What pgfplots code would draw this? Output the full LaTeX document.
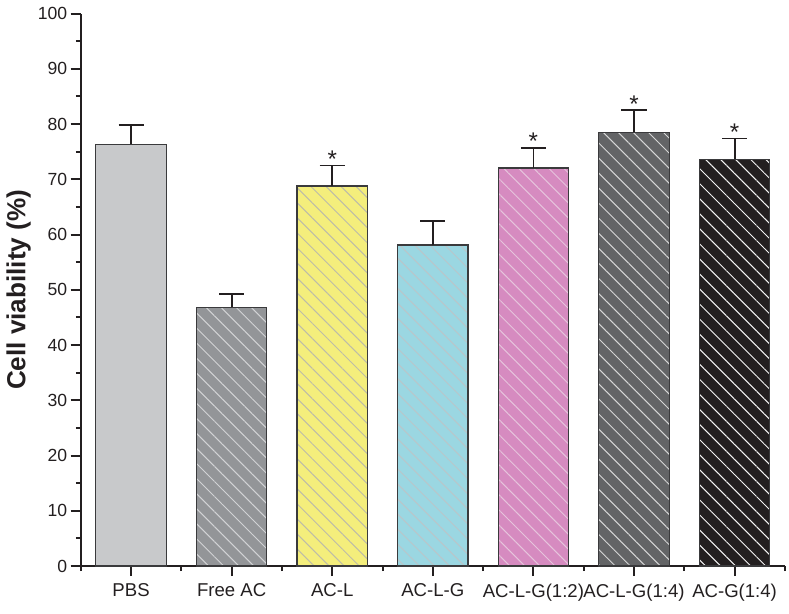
\documentclass[border=0pt]{standalone}
\usepackage{fontspec}
\setmainfont{Liberation Sans}
\usepackage{pgfplots}
\pgfplotsset{compat=1.18}
\usetikzlibrary{patterns.meta}
\definecolor{axisc}{HTML}{231F20}
\definecolor{edge}{HTML}{3A3A3C}
\definecolor{c1}{HTML}{C8C9CB}
\definecolor{c2}{HTML}{939598}
\definecolor{h2}{HTML}{D2D3D5}
\definecolor{c3}{HTML}{F4EE7C}
\definecolor{h3}{HTML}{BDBCA8}
\definecolor{c4}{HTML}{9BD7E2}
\definecolor{h4}{HTML}{B9C6CA}
\definecolor{c5}{HTML}{D68BC0}
\definecolor{h5}{HTML}{E6C4DC}
\definecolor{c6}{HTML}{636466}
\definecolor{h6}{HTML}{D6D6D6}
\definecolor{c7}{HTML}{231F20}
\definecolor{h7}{HTML}{F4F4F4}
\tikzset{hatch/.style={postaction={pattern={Lines[angle=-45,distance=10.6bp,line width=1bp]},pattern color=#1}}}
\begin{document}
\begin{tikzpicture}
\begin{axis}[
  scale only axis, width=701bp, height=550bp,
  xmin=-0.5, xmax=6.5, ymin=0, ymax=100,
  axis x line*=bottom, axis y line*=left,
  axis line style={line width=2.2bp, color=axisc},
  xtick={0,...,6},
  xticklabels={PBS,Free AC,AC-L,AC-L-G,AC-L-G(1:2),AC-L-G(1:4),AC-G(1:4)},
  minor xtick={-0.5,0.5,...,6.5},
  ytick={0,10,...,100}, minor ytick={5,15,...,95},
  tick align=outside, major tick length=10bp, minor tick length=5bp,
  every tick/.style={line width=2bp, color=axisc},
  /pgf/number format/assume math mode=true,
  yticklabel style={font=\fontsize{17.5bp}{20bp}\selectfont, color=axisc},
  xticklabel style={font=\fontsize{18.5bp}{22bp}\selectfont, color=axisc, yshift=-4bp},
  ylabel={\bfseries Cell viability (\%)},
  every axis y label/.style={at={(axis description cs:0,0.5)}, xshift=-62bp, rotate=90, anchor=center, font=\fontsize{26bp}{30bp}\selectfont, color=axisc},
  ybar, bar width=0.7, bar shift=0pt,
  clip=false,
  error bars/error bar style={line width=1.8bp, color=axisc},
  error bars/error mark options={rotate=90, mark size=12.5bp, line width=1.8bp, color=axisc},
]
\addplot[fill=c1, draw=edge, line width=1.2bp, error bars/.cd, y dir=plus, y explicit]
  coordinates {(0,76.3) +- (0,3.5)};
\addplot[fill=c2, draw=edge, line width=1.2bp, hatch=h2, error bars/.cd, y dir=plus, y explicit]
  coordinates {(1,46.8) +- (0,2.5)};
\addplot[fill=c3, draw=edge, line width=1.2bp, hatch=h3, error bars/.cd, y dir=plus, y explicit]
  coordinates {(2,68.8) +- (0,3.7)};
\addplot[fill=c4, draw=edge, line width=1.2bp, hatch=h4, error bars/.cd, y dir=plus, y explicit]
  coordinates {(3,58.1) +- (0,4.3)};
\addplot[fill=c5, draw=edge, line width=1.2bp, hatch=h5, error bars/.cd, y dir=plus, y explicit]
  coordinates {(4,72.05) +- (0,3.65)};
\addplot[fill=c6, draw=edge, line width=1.2bp, hatch=h6, error bars/.cd, y dir=plus, y explicit]
  coordinates {(5,78.5) +- (0,4.0)};
\addplot[fill=c7, draw=edge, line width=1.2bp, hatch=h7, error bars/.cd, y dir=plus, y explicit]
  coordinates {(6,73.6) +- (0,3.8)};
\foreach \xx/\yy in {2/72.5,4/75.7,5/82.5,6/77.4}{
  \edef\tmp{\noexpand\node[font=\noexpand\fontsize{24bp}{24bp}\noexpand\selectfont, anchor=base, yshift=-2bp, color=axisc] at (axis cs:\xx,\yy) {*};}
  \tmp
}
\end{axis}
\path ([yshift=4bp]current bounding box.north);
\path ([yshift=-9bp]current bounding box.south);
\path ([xshift=3bp]current bounding box.east);
\path ([xshift=-3bp]current bounding box.west);
\end{tikzpicture}
\end{document}
